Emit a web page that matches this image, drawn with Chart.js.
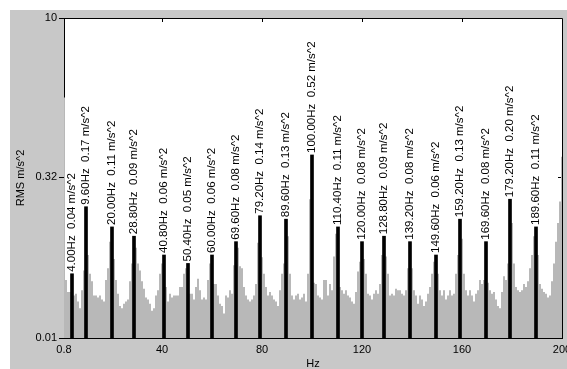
<!DOCTYPE html>
<html>
<head>
<meta charset="utf-8">
<title>RMS spectrum</title>
<script src="https://cdn.jsdelivr.net/npm/chart.js@4.4.1/dist/chart.umd.min.js"></script>
<style>
  html, body { margin: 0; padding: 0; background: #fff; }
  canvas { display: block; }
</style>
</head>
<body>
<canvas id="chart" width="567" height="369"></canvas>
<script>
const PanelGray = '#c8c8c8';
const SpectrumGray = '#b8b8b8';
const FontFamily = '"Liberation Sans", Arial, sans-serif';

// spectrum bins, 0.8 Hz apart, starting at 0.8 Hz
const binStep = 0.8;
const spectrumRms = [
	1.8, 0.035, 0.027, 0.027, 0.04, 0.025, 0.026, 0.022, 0.019, 0.028,
	0.043, 0.17, 0.06, 0.04, 0.034, 0.025, 0.025, 0.024, 0.025, 0.023,
	0.022, 0.035, 0.045, 0.08, 0.11, 0.055, 0.035, 0.026, 0.02, 0.019,
	0.021, 0.022, 0.023, 0.034, 0.05, 0.09, 0.07, 0.05, 0.043, 0.034,
	0.029, 0.024, 0.023, 0.021, 0.018, 0.019, 0.025, 0.028, 0.04, 0.05,
	0.06, 0.03, 0.022, 0.026, 0.024, 0.025, 0.025, 0.025, 0.03, 0.03,
	0.04, 0.045, 0.05, 0.026, 0.026, 0.023, 0.03, 0.036, 0.028, 0.023,
	0.024, 0.023, 0.035, 0.05, 0.06, 0.032, 0.032, 0.025, 0.021, 0.02,
	0.017, 0.025, 0.024, 0.028, 0.026, 0.048, 0.08, 0.07, 0.047, 0.045,
	0.03, 0.025, 0.023, 0.022, 0.023, 0.025, 0.032, 0.078, 0.14, 0.057,
	0.04, 0.03, 0.025, 0.027, 0.025, 0.023, 0.022, 0.02, 0.028, 0.04,
	0.05, 0.13, 0.09, 0.04, 0.025, 0.023, 0.025, 0.026, 0.023, 0.024,
	0.026, 0.022, 0.04, 0.2, 0.52, 0.033, 0.032, 0.025, 0.024, 0.023,
	0.035, 0.035, 0.025, 0.032, 0.028, 0.058, 0.095, 0.11, 0.03, 0.028,
	0.026, 0.028, 0.025, 0.024, 0.022, 0.021, 0.027, 0.042, 0.052, 0.08,
	0.055, 0.04, 0.026, 0.025, 0.023, 0.026, 0.028, 0.026, 0.032, 0.06,
	0.09, 0.058, 0.04, 0.025, 0.026, 0.025, 0.029, 0.028, 0.028, 0.026,
	0.025, 0.028, 0.045, 0.08, 0.045, 0.028, 0.025, 0.021, 0.025, 0.023,
	0.02, 0.022, 0.026, 0.03, 0.04, 0.052, 0.06, 0.04, 0.028, 0.025,
	0.028, 0.023, 0.025, 0.028, 0.025, 0.026, 0.04, 0.06, 0.13, 0.085,
	0.04, 0.028, 0.025, 0.028, 0.025, 0.022, 0.026, 0.028, 0.035, 0.032,
	0.035, 0.08, 0.033, 0.028, 0.026, 0.027, 0.023, 0.02, 0.019, 0.027,
	0.038, 0.035, 0.05, 0.2, 0.12, 0.05, 0.03, 0.028, 0.027, 0.028,
	0.032, 0.03, 0.034, 0.045, 0.06, 0.09, 0.11, 0.06, 0.032, 0.029,
	0.027, 0.026, 0.024, 0.025, 0.034, 0.05, 0.08, 0.12, 0.19, 0.5
];

// labelled peaks
const peakHz = [4.00, 9.60, 20.00, 28.80, 40.80, 50.40, 60.00, 69.60, 79.20, 89.60, 100.00, 110.40, 120.00, 128.80, 139.20, 149.60, 159.20, 169.60, 179.20, 189.60];
const peakRms = [0.04, 0.17, 0.11, 0.09, 0.06, 0.05, 0.06, 0.08, 0.14, 0.13, 0.52, 0.11, 0.08, 0.09, 0.08, 0.06, 0.13, 0.08, 0.20, 0.11];

const xTicks = [0.8, 40, 80, 120, 160, 200];
const yTicks = [0.01, 0.32, 10];

const font = { family: FontFamily, size: 11 };
const peakFontSize = 11.5;

const spectrumPoints = spectrumRms.map((rms, i) => ({ x: +(binStep * (i + 1)).toFixed(1), y: rms }));
const peakPoints = peakHz.map((hz, i) => ({ x: hz, y: peakRms[i] }));

const peakLabel = (hz, rms) => `${hz.toFixed(2)}Hz  ${rms.toFixed(2)} m/s^2`;

const framePlugin = {
	id: 'frame',
	beforeDraw(chart) {
		const { ctx, chartArea: a, width, height } = chart;
		ctx.save();
		ctx.fillStyle = '#fff';
		ctx.fillRect(0, 0, width, height);
		ctx.fillStyle = PanelGray;
		ctx.fillRect(10, 10, width - 10, height - 10);
		ctx.fillStyle = '#fff';
		ctx.fillRect(a.left, a.top, a.right - a.left, a.bottom - a.top);
		ctx.restore();
	},
	beforeDatasetsDraw(chart) {
		const { ctx, chartArea: a, scales } = chart;
		ctx.save();
		ctx.strokeStyle = '#000';
		ctx.lineWidth = 1;
		ctx.beginPath();
		ctx.moveTo(a.left, a.top + 0.5);
		ctx.lineTo(a.right + 0.5, a.top + 0.5);
		ctx.lineTo(a.right + 0.5, a.bottom);
		// inward ticks on the top and right edges
		xTicks.slice(1, -1).forEach(v => {
			const x = Math.round(scales.x.getPixelForValue(v)) + 0.5;
			ctx.moveTo(x, a.top);
			ctx.lineTo(x, a.top + 4);
		});
		yTicks.slice(1, -1).forEach(v => {
			const y = Math.round(scales.y.getPixelForValue(v)) + 0.5;
			ctx.moveTo(a.right, y);
			ctx.lineTo(a.right - 4, y);
		});
		ctx.stroke();
		ctx.restore();
	},
	afterDatasetsDraw(chart) {
		const { ctx, scales } = chart;
		ctx.save();
		ctx.fillStyle = '#000';
		ctx.font = `${peakFontSize}px ${FontFamily}`;
		ctx.textAlign = 'left';
		ctx.textBaseline = 'middle';
		peakHz.forEach((hz, i) => {
			const x = scales.x.getPixelForValue(hz);
			const y = scales.y.getPixelForValue(peakRms[i]);
			ctx.save();
			ctx.translate(x, y - 2);
			ctx.rotate(-Math.PI / 2);
			ctx.fillText(peakLabel(hz, peakRms[i]), 0, 0);
			ctx.restore();
		});
		ctx.restore();
	}
};

new Chart(document.getElementById('chart'), {
	type: 'line',
	data: {
		datasets: [
			{
				type: 'bar',
				data: peakPoints,
				backgroundColor: '#000',
				barThickness: 3,
				grouped: false,
				order: 0
			},
			{
				type: 'line',
				data: spectrumPoints,
				stepped: 'middle',
				fill: 'start',
				backgroundColor: SpectrumGray,
				borderColor: 'rgba(0,0,0,0)',
				borderWidth: 0,
				pointRadius: 0,
				order: 1
			}
		]
	},
	options: {
		responsive: false,
		animation: false,
		layout: { padding: { left: 10, top: 18, right: 5, bottom: 0 } },
		plugins: { legend: { display: false }, tooltip: { enabled: false } },
		scales: {
			x: {
				type: 'linear',
				min: 0.8,
				max: 200,
				offset: false,
				afterBuildTicks: s => { s.ticks = xTicks.map(v => ({ value: v })); },
				afterFit: s => { s.height = 31; s.paddingLeft = 0; s.paddingRight = 0; },
				ticks: { callback: v => String(v), color: '#000', font, padding: 5, maxRotation: 0, autoSkip: false },
				grid: { drawOnChartArea: false, drawTicks: false, offset: false },
				border: { color: '#000' },
				title: { display: true, text: 'Hz', color: '#000', font, padding: { top: 0, bottom: -2 } }
			},
			y: {
				type: 'logarithmic',
				min: 0.01,
				max: 10,
				afterBuildTicks: s => { s.ticks = yTicks.map(v => ({ value: v })); },
				afterFit: s => { s.width = 54; },
				ticks: { callback: v => String(v), color: '#000', font, padding: 2 },
				grid: { drawOnChartArea: false, tickLength: 5, color: '#000' },
				border: { color: '#000' },
				title: { display: true, text: 'RMS m/s^2', color: '#000', font, padding: { top: 4, bottom: 0 } }
			}
		}
	},
	plugins: [framePlugin]
});
</script>
</body>
</html>
